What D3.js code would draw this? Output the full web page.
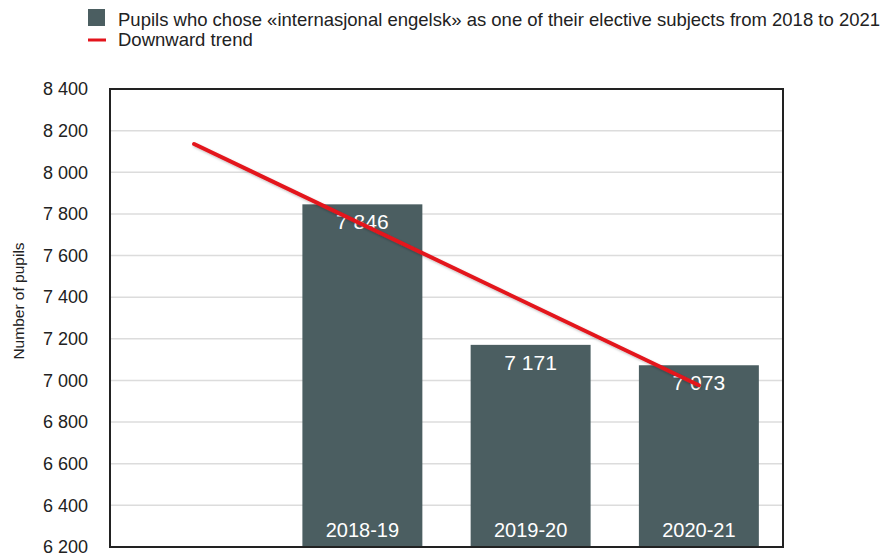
<!DOCTYPE html>
<html>
<head>
<meta charset="utf-8">
<script src="https://cdn.jsdelivr.net/npm/d3@7"></script>
<style>
  html, body { margin: 0; padding: 0; background: #fff; }
  svg { display: block; font-family: "Liberation Sans", Arial, Helvetica, sans-serif; }
</style>
</head>
<body>
<svg id="chart" width="885" height="560"></svg>
<script>
// Slots along the x axis; the first one is left empty so the trend can start there
const slots = ["", "2018-19", "2019-20", "2020-21"];
const categories = ["2018-19", "2019-20", "2020-21"];
const pupils = [7846, 7171, 7073];
// Trend line end points (first slot, last slot)
const trendSlots = ["", "2020-21"];
const trendValues = [8136, 6977];
const yTicks = [6200, 6400, 6600, 6800, 7000, 7200, 7400, 7600, 7800, 8000, 8200, 8400];

const legendBars = "Pupils who chose «internasjonal engelsk» as one of their elective subjects from 2018 to 2021";
const legendTrend = "Downward trend";
const yTitle = "Number of pupils";

const barColor = "#4b5e61";
const trendColor = "#e3141c";

const svg = d3.select("#chart");
const plot = { left: 110, right: 783, top: 89, bottom: 547 };

const x = d3.scaleBand()
  .domain(slots)
  .range([plot.left, plot.right])
  .paddingInner(0.287)
  .paddingOuter(0.1435);

const y = d3.scaleLinear()
  .domain([6200, 8400])
  .range([plot.bottom, plot.top]);

const fmt = v => d3.format(",")(v).replace(/,/g, " ");

// Horizontal gridlines
svg.append("g")
  .selectAll("line")
  .data(yTicks.slice(1, -1))
  .join("line")
  .attr("x1", plot.left).attr("x2", plot.right)
  .attr("y1", d => y(d)).attr("y2", d => y(d))
  .attr("stroke", "#dcdcdc")
  .attr("stroke-width", 1.5);

// Y axis tick labels
const yAxis = svg.append("g")
  .attr("transform", `translate(${plot.left},0)`)
  .call(d3.axisLeft(y).tickValues(yTicks).tickFormat(fmt).tickSize(0).tickPadding(22));
yAxis.select(".domain").remove();
yAxis.selectAll("text")
  .attr("font-family", "'Liberation Sans', Arial, sans-serif")
  .attr("font-size", 18)
  .attr("fill", "#222");

// Bars
const bars = categories.map((c, i) => ({ cat: c, value: pupils[i] }));
svg.append("g")
  .selectAll("rect")
  .data(bars)
  .join("rect")
  .attr("x", d => x(d.cat))
  .attr("width", x.bandwidth())
  .attr("y", d => y(d.value))
  .attr("height", d => y(6200) - y(d.value))
  .attr("fill", barColor);

// Value labels inside top of bars
svg.append("g")
  .selectAll("text")
  .data(bars)
  .join("text")
  .attr("x", d => x(d.cat) + x.bandwidth() / 2)
  .attr("y", d => y(d.value) + 25)
  .attr("text-anchor", "middle")
  .attr("font-size", 21)
  .attr("fill", "#fff")
  .text(d => fmt(d.value));

// Category labels inside bottom of bars
svg.append("g")
  .selectAll("text")
  .data(bars)
  .join("text")
  .attr("x", d => x(d.cat) + x.bandwidth() / 2)
  .attr("y", plot.bottom - 10)
  .attr("text-anchor", "middle")
  .attr("font-size", 20)
  .attr("fill", "#fff")
  .text(d => d.cat);

// Plot frame
svg.append("rect")
  .attr("x", plot.left).attr("y", plot.top)
  .attr("width", plot.right - plot.left)
  .attr("height", plot.bottom - plot.top)
  .attr("fill", "none")
  .attr("stroke", "#222")
  .attr("stroke-width", 2);

// Soft shadow under the trend line
const defs = svg.append("defs");
const f = defs.append("filter").attr("id", "shadow").attr("x", "-10%").attr("y", "-10%").attr("width", "120%").attr("height", "120%");
f.append("feDropShadow").attr("dx", 1).attr("dy", 1.5).attr("stdDeviation", 1).attr("flood-color", "#000").attr("flood-opacity", 0.25);

// Trend line
const trend = trendSlots.map((s, i) => [x(s) + x.bandwidth() / 2, y(trendValues[i])]);
svg.append("path")
  .attr("d", d3.line()(trend))
  .attr("fill", "none")
  .attr("stroke", trendColor)
  .attr("stroke-width", 4)
  .attr("stroke-linecap", "round")
  .attr("filter", "url(#shadow)");

// Y axis title
svg.append("text")
  .attr("transform", "translate(24,301) rotate(-90)")
  .attr("text-anchor", "middle")
  .attr("font-size", 15.5)
  .attr("fill", "#222")
  .text(yTitle);

// Legend
const legend = svg.append("g");
legend.append("rect")
  .attr("x", 88).attr("y", 9).attr("width", 17).attr("height", 17)
  .attr("fill", barColor);
legend.append("text")
  .attr("x", 118).attr("y", 26)
  .attr("font-size", 18.5)
  .attr("fill", "#222")
  .text(legendBars);
legend.append("line")
  .attr("x1", 88).attr("x2", 106)
  .attr("y1", 40).attr("y2", 40)
  .attr("stroke", trendColor)
  .attr("stroke-width", 3);
legend.append("text")
  .attr("x", 118).attr("y", 46)
  .attr("font-size", 18.5)
  .attr("fill", "#222")
  .text(legendTrend);
</script>
</body>
</html>
